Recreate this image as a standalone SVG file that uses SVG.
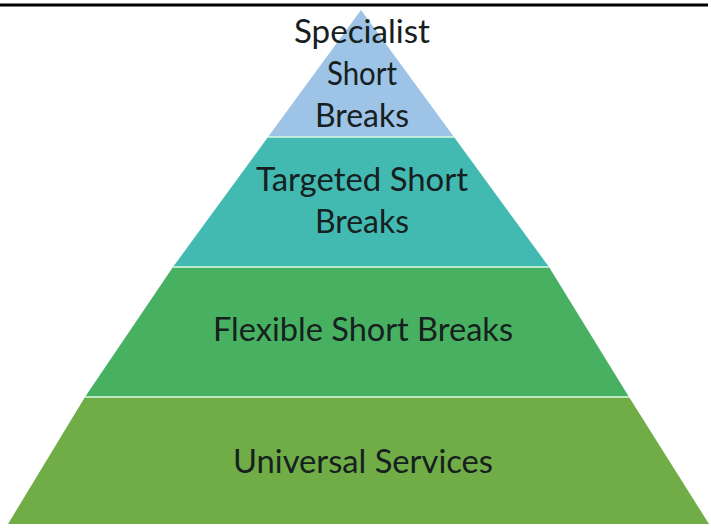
<svg xmlns="http://www.w3.org/2000/svg" width="711" height="529" viewBox="0 0 711 529">
<style>
.t{font-family:Lato,"Open Sans","Liberation Sans",sans-serif;font-size:33px;fill:#16201e;text-anchor:middle}
.sep{stroke:#d6f5e0;stroke-width:2;opacity:0.8}
</style>
<rect width="711" height="529" fill="#ffffff"/>
<line x1="0" y1="5" x2="708" y2="5" stroke="#000" stroke-width="3"/>
<g id="specialist">
<polygon points="361,10 454,137 268,137" fill="#9dc3e6"/>
<text class="t" x="362" y="43" textLength="136" lengthAdjust="spacingAndGlyphs">Specialist</text>
<text class="t" x="362" y="85" textLength="70" lengthAdjust="spacingAndGlyphs">Short</text>
<text class="t" x="362" y="127" textLength="94" lengthAdjust="spacingAndGlyphs">Breaks</text>
</g>
<g id="targeted">
<polygon points="268,137 454,137 549,267 173,267" fill="#42bab2"/>
<text class="t" x="362" y="191" textLength="212" lengthAdjust="spacingAndGlyphs">Targeted Short</text>
<text class="t" x="362" y="233" textLength="94" lengthAdjust="spacingAndGlyphs">Breaks</text>
</g>
<g id="flexible">
<polygon points="173,267 549,267 629,397 85,397" fill="#47b161"/>
<text class="t" x="363" y="341" textLength="300" lengthAdjust="spacingAndGlyphs">Flexible Short Breaks</text>
</g>
<g id="universal">
<polygon points="85,397 629,397 709,524 8,524" fill="#70ad47"/>
<text class="t" x="363" y="473" textLength="260" lengthAdjust="spacingAndGlyphs">Universal Services</text>
</g>
<g id="connectors">
<line class="sep" x1="268" y1="137" x2="454" y2="137"/>
<line class="sep" x1="173" y1="267" x2="549" y2="267"/>
<line class="sep" x1="85" y1="397" x2="629" y2="397"/>
</g>
</svg>
